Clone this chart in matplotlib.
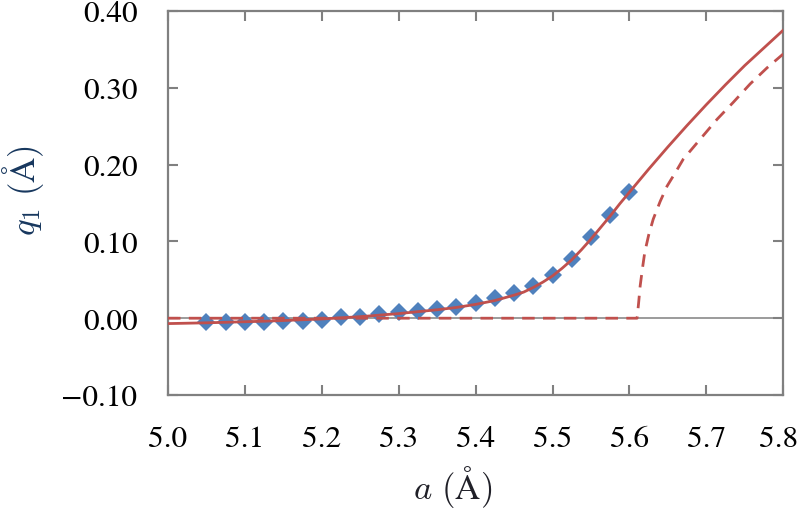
import matplotlib
matplotlib.use("Agg")
from matplotlib import pyplot as plt
from matplotlib.transforms import ScaledTranslation

# fitted data points (diamonds)
a_pts = [5.050, 5.075, 5.100, 5.125, 5.150, 5.175, 5.200, 5.225, 5.250, 5.275, 5.300, 5.325,
         5.350, 5.375, 5.400, 5.425, 5.450, 5.475, 5.500, 5.525, 5.550, 5.575, 5.600]
q_pts = [-0.005, -0.005, -0.005, -0.005, -0.004, -0.003, -0.002, 0.001, 0.002, 0.005, 0.008, 0.010,
         0.012, 0.015, 0.020, 0.026, 0.033, 0.042, 0.056, 0.077, 0.106, 0.134, 0.164]

# solid curve
a_solid = [5.000, 5.025, 5.050, 5.075, 5.100, 5.125, 5.150, 5.175, 5.200, 5.225, 5.250, 5.275,
           5.300, 5.325, 5.350, 5.375, 5.400, 5.425, 5.450, 5.4625, 5.475, 5.4875, 5.500, 5.5125,
           5.525, 5.5375, 5.550, 5.5625, 5.575, 5.5875, 5.600, 5.6125, 5.625, 5.650, 5.675,
           5.700, 5.725, 5.750, 5.775, 5.800]
q_solid = [-0.007, -0.0065, -0.006, -0.0053, -0.0046, -0.0039, -0.003, -0.002, -0.001, 0.0005, 0.002, 0.004,
           0.006, 0.0085, 0.011, 0.014, 0.018, 0.023, 0.030, 0.034, 0.040, 0.047, 0.055, 0.065,
           0.076, 0.089, 0.103, 0.118, 0.133, 0.149, 0.164, 0.179, 0.194, 0.223, 0.251,
           0.278, 0.304, 0.329, 0.352, 0.375]

# dashed curve
a_dash = [5.000, 5.610, 5.612, 5.614, 5.617, 5.620, 5.625, 5.631, 5.640, 5.649, 5.660, 5.670,
          5.692, 5.714, 5.735, 5.757, 5.779, 5.800]
q_dash = [0.000, 0.000, 0.020, 0.042, 0.065, 0.086, 0.108, 0.129, 0.152, 0.172, 0.190, 0.207,
          0.233, 0.259, 0.281, 0.305, 0.326, 0.344]

xticks = [5.0, 5.1, 5.2, 5.3, 5.4, 5.5, 5.6, 5.7, 5.8]
yticks = [-0.10, 0.0, 0.10, 0.20, 0.30, 0.40]

red = "#C0504D"
blue = "#4F81BD"
grey = "#808080"

plt.rcParams["mathtext.fontset"] = "cm"
plt.rcParams["font.family"] = ["STIXGeneral", "DejaVu Serif"]

fig = plt.figure(figsize=(8, 5.1), dpi=100)
ax = fig.add_axes([0.21, 0.2235, 0.769, 0.753])

ax.axhline(0, color=grey, lw=1.1, zorder=1)
ax.plot(a_pts, q_pts, "D", color=blue, ms=9, mew=0, zorder=2)
ax.plot(a_solid, q_solid, "-", color=red, lw=2.0, zorder=3)
ax.plot(a_dash, q_dash, "--", color=red, lw=2.0, dashes=(4.5, 3), zorder=3)

ax.set_xlim(5.0, 5.8)
ax.set_ylim(-0.10, 0.40)
ax.set_xticks(xticks)
ax.set_yticks(yticks)
ax.set_xticklabels(["%.1f" % v for v in xticks])
ax.set_yticklabels([("\u2212%.2f" % -v) if v < 0 else "%.2f" % v for v in yticks])

for s in ax.spines.values():
    s.set_color(grey)
    s.set_linewidth(1.6)

ax.tick_params(direction="in", length=7, width=1.5, color=grey, labelsize=22.5, pad=22,
               top=True, right=True)

# nudge the last x label in so it stays inside the figure
last = ax.get_xticklabels()[-1]
last.set_transform(last.get_transform() + ScaledTranslation(-5 / 100, 0, fig.dpi_scale_trans))

ax.set_xlabel(r"$a\ (\mathrm{\AA})$", fontsize=25, color="#202028", va="center")
ax.xaxis.set_label_coords(0.463, -0.238)
ax.set_ylabel(r"$q_1\ (\mathrm{\AA})$", fontsize=25, color="#17375E", va="center")
ax.yaxis.set_label_coords(-0.235, 0.536)

fig.savefig("out.png", dpi=100)
